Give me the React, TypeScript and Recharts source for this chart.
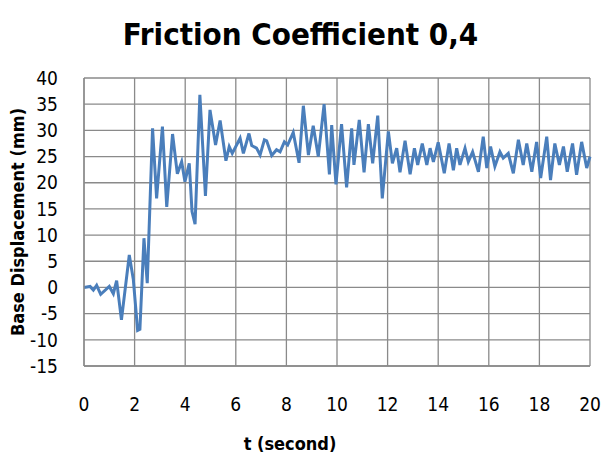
import { CartesianGrid, Line, LineChart, XAxis, YAxis } from "recharts";

const timeSec = [
  0, 0.24, 0.37, 0.5, 0.66, 1.0, 1.16, 1.29, 1.48, 1.79, 1.95, 2.12, 2.21, 2.37, 2.5,
  2.71, 2.87, 3.1, 3.27, 3.5, 3.69, 3.86, 3.99, 4.16, 4.27, 4.39, 4.58, 4.8, 4.98,
  5.2, 5.38, 5.61, 5.74, 5.86, 6.17, 6.3, 6.52, 6.63, 6.82, 6.96, 7.13, 7.22, 7.42,
  7.61, 7.75, 7.92, 8.05, 8.27, 8.5, 8.67, 8.87, 9.06, 9.26, 9.49, 9.7, 9.79, 9.96,
  10.18, 10.38, 10.58, 10.67, 10.88, 11.07, 11.24, 11.41, 11.61, 11.79, 12.03, 12.19,
  12.36, 12.49, 12.69, 12.89, 13.06, 13.19, 13.37, 13.55, 13.68, 13.81, 14.0, 14.24,
  14.43, 14.6, 14.73, 14.86, 15.06, 15.19, 15.36, 15.45, 15.59, 15.78, 15.92, 16.07,
  16.24, 16.44, 16.57, 16.77, 16.97, 17.17, 17.36, 17.5, 17.7, 17.89, 18.05, 18.29,
  18.44, 18.61, 18.79, 18.95, 19.1, 19.31, 19.47, 19.67, 19.87, 20.0,
];

const displacementMm = [
  0, 0.2, -0.5, 0.4, -1.3, 0.2, -1.2, 1.3, -6.2, 6.2, 1.5, -8.2, -8.0, 9.4, 0.8,
  30.4, 17.0, 30.7, 15.4, 29.3, 21.7, 24.0, 20.2, 23.7, 14.5, 12.1, 36.8, 17.5, 33.9,
  27.2, 31.9, 24.2, 26.9, 25.6, 28.5, 25.6, 29.4, 27.1, 26.6, 25.3, 28.2, 28.0, 25.2,
  26.3, 25.9, 27.8, 27.2, 29.6, 23.8, 34.7, 25.3, 30.9, 25.0, 35.0, 21.6, 31.0, 19.7,
  31.2, 19.1, 30.4, 23.4, 32.0, 22.0, 31.2, 23.7, 32.8, 17.0, 29.8, 23.7,
  26.6, 22.0, 28.0, 21.6, 26.6, 23.4, 27.5, 23.4, 26.6, 24.0, 27.7, 21.8,
  27.5, 22.4, 26.6, 23.4, 26.6, 24.0, 25.9, 24.4, 22.1, 28.8, 22.8, 26.9,
  23.1, 25.9, 24.7, 25.6, 21.8, 28.2, 23.4, 27.5, 22.1, 27.8, 20.9, 28.8,
  20.5, 27.5, 23.4, 26.9, 22.1, 27.5, 21.5, 27.8, 22.8, 25.0,
];

const xTicks = [0, 2, 4, 6, 8, 10, 12, 14, 16, 18, 20];
const yTicks = [-15, -10, -5, 0, 5, 10, 15, 20, 25, 30, 35, 40];

const data = timeSec.map((t, i) => ({ t, d: displacementMm[i] }));

const font = '"DejaVu Sans Condensed", "Liberation Sans Narrow", sans-serif';

export default function App() {
  return (
    <div
      style={{
        position: "absolute",
        left: 0,
        top: 0,
        width: 601,
        height: 457,
        background: "#fff",
        fontFamily: font,
      }}
    >
      <div
        style={{
          position: "absolute",
          left: 0,
          top: 14,
          width: 601,
          textAlign: "center",
          fontSize: 31,
          fontWeight: 700,
          lineHeight: "40px",
        }}
      >
        Friction Coefficient 0,4
      </div>
      <LineChart
        width={601}
        height={457}
        data={data}
        margin={{ top: 78, right: 11, bottom: 0, left: 0 }}
      >
        <CartesianGrid stroke="#8a8a8a" strokeWidth={1.3} />
        <XAxis
          dataKey="t"
          type="number"
          domain={[0, 20]}
          ticks={xTicks}
          interval={0}
          height={91}
          axisLine={{ stroke: "#8a8a8a", strokeWidth: 1.3 }}
          tickLine={false}
          tickMargin={26}
          tick={{ fill: "#000", fontSize: 19, fontFamily: font }}
        />
        <YAxis
          type="number"
          domain={[-15, 40]}
          ticks={yTicks}
          interval={0}
          width={84}
          axisLine={{ stroke: "#8a8a8a", strokeWidth: 1.3 }}
          tickLine={false}
          tickMargin={20}
          tick={{ fill: "#000", fontSize: 19, fontFamily: font }}
        />
        <Line
          type="linear"
          dataKey="d"
          stroke="#4a7ebb"
          strokeWidth={3}
          dot={false}
          isAnimationActive={false}
        />
      </LineChart>
      <div
        style={{
          position: "absolute",
          left: 0,
          top: 432,
          width: 580,
          textAlign: "center",
          fontSize: 18,
          fontWeight: 700,
          lineHeight: "24px",
        }}
      >
        t (second)
      </div>
      <div
        style={{
          position: "absolute",
          left: 18 - 150,
          top: 222 - 12,
          width: 300,
          height: 24,
          lineHeight: "24px",
          textAlign: "center",
          fontSize: 18,
          fontWeight: 700,
          transform: "rotate(-90deg)",
        }}
      >
        Base Displacement (mm)
      </div>
    </div>
  );
}
